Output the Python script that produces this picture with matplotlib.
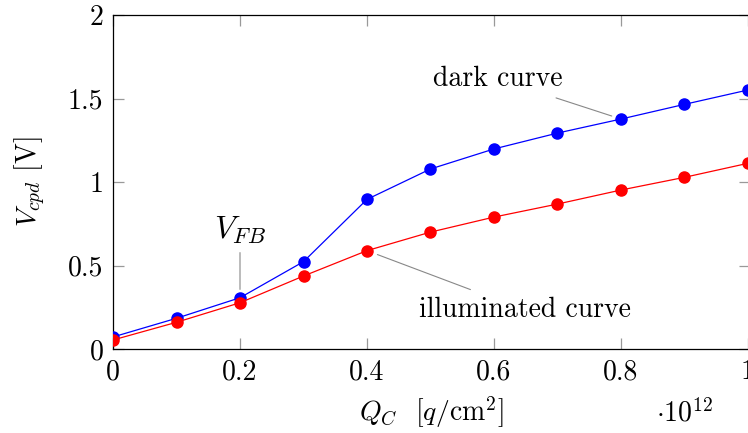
import matplotlib
matplotlib.use("Agg")
import matplotlib.pyplot as plt
from matplotlib.ticker import FuncFormatter

plt.rcParams['font.family'] = 'serif'
plt.rcParams['font.serif'] = ['cmr10']
plt.rcParams['mathtext.fontset'] = 'cm'
plt.rcParams['axes.unicode_minus'] = False
plt.rcParams['axes.formatter.use_mathtext'] = True

# charge in units of 1e12 q/cm^2
q_c = [0.0, 0.1, 0.2, 0.3, 0.4, 0.5, 0.6, 0.7, 0.8, 0.9, 1.0]
v_dark = [0.072, 0.184, 0.307, 0.523, 0.896, 1.078, 1.198, 1.293, 1.377, 1.465, 1.551]
v_illum = [0.054, 0.160, 0.277, 0.437, 0.589, 0.700, 0.790, 0.868, 0.952, 1.028, 1.112]
x_ticks = [0, 0.2, 0.4, 0.6, 0.8, 1.0]
y_ticks = [0, 0.5, 1, 1.5, 2]

W, H = 748, 433
fs = 20
fig = plt.figure(figsize=(W / 100, H / 100), dpi=100)
ax = fig.add_axes([113 / W, 1 - 349 / H, (750 - 113) / W, (349 - 15) / H])

lw = 0.9
ax.plot(q_c, v_dark, color='blue', lw=lw, marker='o', ms=8, zorder=3)
ax.plot(q_c, v_illum, color='red', lw=lw, marker='o', ms=8, zorder=4)

ax.set_xlim(0, 1.0 * (750 - 113) / (748 - 113))
ax.set_ylim(0, 2)
ax.set_xticks(x_ticks)
ax.set_yticks(y_ticks)
fmt = FuncFormatter(lambda v, p: ('%g' % v))
ax.xaxis.set_major_formatter(fmt)
ax.yaxis.set_major_formatter(fmt)
ax.tick_params(direction='in', length=8, width=0.9, color='#999999',
               top=True, right=True, labelsize=fs, pad=7)
for s in ax.spines.values():
    s.set_linewidth(0.9)

ax.set_ylabel(r'$V_{cpd}$ [V]', fontsize=fs, labelpad=14)
ax.set_xlabel(r'$Q_C$  $[q/\mathrm{cm}^2]$', fontsize=fs, labelpad=7)
fig.text(685 / W, 1 - 413 / H, r'$\cdot 10^{12}$', fontsize=fs, ha='center', va='center')

grey = '#888888'
ax.annotate('dark curve', xy=(0.8, v_dark[8]), xytext=(0.606, 1.617),
            fontsize=fs, ha='center', va='center',
            arrowprops=dict(arrowstyle='-', color=grey, lw=0.8,
                            shrinkA=7, shrinkB=7))
ax.annotate('illuminated curve', xy=(0.4, v_illum[4]), xytext=(0.648, 0.234),
            fontsize=fs, ha='center', va='center',
            arrowprops=dict(arrowstyle='-', color=grey, lw=0.8,
                            shrinkA=9, shrinkB=8))
ax.annotate(r'$V_{FB}$', xy=(0.2, v_dark[2]), xytext=(0.2, 0.713),
            fontsize=23, ha='center', va='center',
            arrowprops=dict(arrowstyle='-', color=grey, lw=0.8,
                            shrinkA=3, shrinkB=6))

fig.savefig('out.png', dpi=100)
